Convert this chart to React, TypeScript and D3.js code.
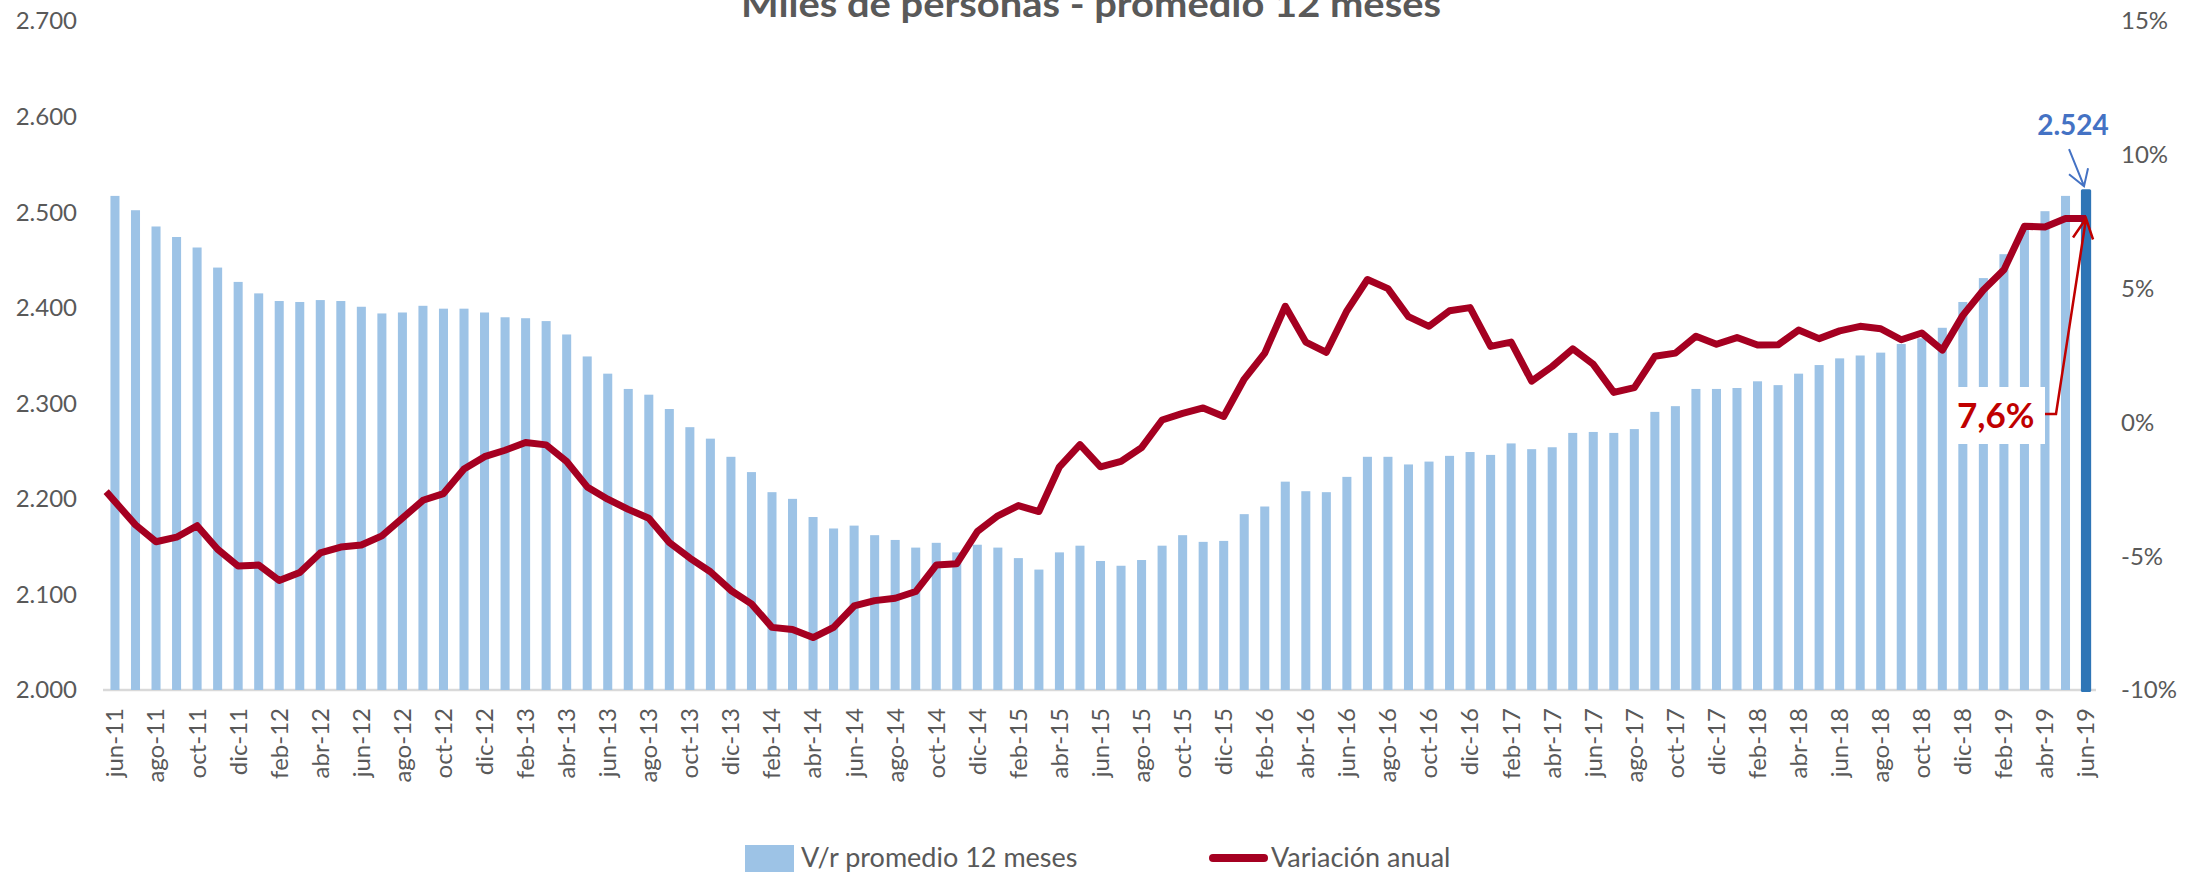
import { useRef, useEffect } from 'react';
import * as d3 from 'd3';

const categories = [
  'jun-11', 'jul-11', 'ago-11', 'sep-11', 'oct-11', 'nov-11', 'dic-11',
  'ene-12', 'feb-12', 'mar-12', 'abr-12', 'may-12', 'jun-12', 'jul-12', 'ago-12', 'sep-12', 'oct-12', 'nov-12', 'dic-12',
  'ene-13', 'feb-13', 'mar-13', 'abr-13', 'may-13', 'jun-13', 'jul-13', 'ago-13', 'sep-13', 'oct-13', 'nov-13', 'dic-13',
  'ene-14', 'feb-14', 'mar-14', 'abr-14', 'may-14', 'jun-14', 'jul-14', 'ago-14', 'sep-14', 'oct-14', 'nov-14', 'dic-14',
  'ene-15', 'feb-15', 'mar-15', 'abr-15', 'may-15', 'jun-15', 'jul-15', 'ago-15', 'sep-15', 'oct-15', 'nov-15', 'dic-15',
  'ene-16', 'feb-16', 'mar-16', 'abr-16', 'may-16', 'jun-16', 'jul-16', 'ago-16', 'sep-16', 'oct-16', 'nov-16', 'dic-16',
  'ene-17', 'feb-17', 'mar-17', 'abr-17', 'may-17', 'jun-17', 'jul-17', 'ago-17', 'sep-17', 'oct-17', 'nov-17', 'dic-17',
  'ene-18', 'feb-18', 'mar-18', 'abr-18', 'may-18', 'jun-18', 'jul-18', 'ago-18', 'sep-18', 'oct-18', 'nov-18', 'dic-18',
  'ene-19', 'feb-19', 'mar-19', 'abr-19', 'may-19', 'jun-19',
];

// V/r promedio 12 meses (miles de personas)
const promedio = [
  2517, 2502, 2485, 2474, 2463, 2442, 2427, 2415, 2407, 2406,
  2408, 2407, 2401, 2394, 2395, 2402, 2399, 2399, 2395, 2390,
  2389, 2386, 2372, 2349, 2331, 2315, 2309, 2294, 2275, 2263,
  2244, 2228, 2207, 2200, 2181, 2169, 2172, 2162, 2157, 2149,
  2154, 2144, 2152, 2149, 2138, 2126, 2144, 2151, 2135, 2130,
  2136, 2151, 2162, 2155, 2156, 2184, 2192, 2218, 2208, 2207,
  2223, 2244, 2244, 2236, 2239, 2245, 2249, 2246, 2258, 2252,
  2254, 2269, 2270, 2269, 2273, 2291, 2297, 2315, 2315, 2316,
  2323, 2319, 2331, 2340, 2347, 2350, 2353, 2362, 2368, 2379,
  2406, 2431, 2456, 2483, 2501, 2517, 2524,
];

// Variación anual (%)
const variacion = [
  -2.96, -3.83, -4.46, -4.29, -3.86, -4.74, -5.37, -5.33, -5.91, -5.61,
  -4.88, -4.66, -4.58, -4.24, -3.58, -2.91, -2.66, -1.74, -1.28, -1.04,
  -0.75, -0.84, -1.46, -2.41, -2.87, -3.25, -3.58, -4.49, -5.07, -5.58,
  -6.28, -6.78, -7.66, -7.74, -8.04, -7.66, -6.86, -6.66, -6.57, -6.32,
  -5.33, -5.28, -4.08, -3.49, -3.11, -3.33, -1.66, -0.83, -1.66, -1.46,
  -0.94, 0.09, 0.34, 0.54, 0.22, 1.62, 2.59, 4.34, 3.0, 2.62,
  4.17, 5.34, 5.0, 3.95, 3.59, 4.17, 4.29, 2.84, 3.0, 1.54,
  2.09, 2.75, 2.17, 1.12, 1.3, 2.47, 2.59, 3.22, 2.92, 3.17,
  2.89, 2.9, 3.45, 3.13, 3.42, 3.59, 3.5, 3.09, 3.34, 2.7,
  4.0, 4.95, 5.7, 7.33, 7.3, 7.62, 7.62,
];

const leftTicks = [2000, 2100, 2200, 2300, 2400, 2500, 2600, 2700];
const rightTicks = [-10, -5, 0, 5, 10, 15];

const W = 2193;
const H = 872;
const FONT = "Lato, 'DejaVu Sans', sans-serif";
const GRAY = '#595959';

const App = () => {
  const svgRef = useRef<SVGSVGElement>(null);

  useEffect(() => {
    if (!svgRef.current) return;
    const svg = d3.select(svgRef.current);
    svg.selectAll('*').remove();

    const baseY = 690;
    const topY = 21;
    const plotLeft = 104.7;

    const x = d3.scaleBand<string>()
      .domain(categories)
      .range([plotLeft, 2096.3])
      .paddingInner(0.56)
      .paddingOuter(0.28);
    const cx = (c: string) => (x(c) as number) + x.bandwidth() / 2;

    const yL = d3.scaleLinear().domain([2000, 2700]).range([baseY, topY]);
    const yR = d3.scaleLinear().domain([-10, 15]).range([baseY, topY]);

    const es = d3.formatLocale({ decimal: ',', thousands: '.', grouping: [3], currency: ['', ''] });
    const fmtL = es.format(',d');

    svg.append('rect').attr('width', W).attr('height', H).attr('fill', '#fff');

    // title (cut at the top like the original)
    svg.append('text')
      .attr('x', 1091)
      .attr('y', 17)
      .attr('text-anchor', 'middle')
      .attr('font-family', FONT)
      .attr('font-weight', 'bold')
      .attr('font-size', 36)
      .attr('fill', GRAY)
      .attr('textLength', 700)
      .attr('lengthAdjust', 'spacingAndGlyphs')
      .text('Miles de personas - promedio 12 meses');

    // left axis labels
    svg.append('g')
      .selectAll('text')
      .data(leftTicks)
      .enter()
      .append('text')
      .attr('x', 77)
      .attr('y', d => yL(d))
      .attr('dy', '0.35em')
      .attr('text-anchor', 'end')
      .attr('font-family', FONT)
      .attr('font-size', 24)
      .attr('fill', GRAY)
      .text(d => fmtL(d));

    // right axis labels
    svg.append('g')
      .selectAll('text')
      .data(rightTicks)
      .enter()
      .append('text')
      .attr('x', 2121)
      .attr('y', d => yR(d))
      .attr('dy', '0.35em')
      .attr('font-family', FONT)
      .attr('font-size', 24)
      .attr('fill', GRAY)
      .text(d => `${d}%`);

    // baseline
    svg.append('line')
      .attr('x1', 103)
      .attr('x2', 2096)
      .attr('y1', baseY)
      .attr('y2', baseY)
      .attr('stroke', '#D9D9D9')
      .attr('stroke-width', 2.5);

    // bars
    const last = categories.length - 1;
    svg.append('g')
      .selectAll('rect')
      .data(promedio)
      .enter()
      .append('rect')
      .attr('x', (d, i) => (x(categories[i]) as number) - (i === last ? 0.6 : 0))
      .attr('y', d => yL(d))
      .attr('width', (d, i) => x.bandwidth() + (i === last ? 1.2 : 0))
      .attr('height', (d, i) => baseY - yL(d) + (i === last ? 2 : 0))
      .attr('rx', (d, i) => (i === last ? 1.5 : 0))
      .attr('fill', (d, i) => (i === last ? '#2E75B6' : '#9DC3E6'));

    // x labels (every 2 months)
    svg.append('g')
      .selectAll('text')
      .data(categories.filter((c, i) => i % 2 === 0))
      .enter()
      .append('text')
      .attr('transform', d => `translate(${cx(d)},708) rotate(-90)`)
      .attr('dy', '0.35em')
      .attr('text-anchor', 'end')
      .attr('font-family', FONT)
      .attr('font-size', 24)
      .attr('fill', GRAY)
      .text(d => d);

    // line, with the first segment carried back to the plot edge as in Excel
    const pts: [number, number][] = variacion.map((v, i) => [cx(categories[i]), yR(v)]);
    const slope = (pts[1][1] - pts[0][1]) / (pts[1][0] - pts[0][0]);
    const edgeX = plotLeft + 1.5;
    pts.unshift([edgeX, pts[0][1] - slope * (pts[0][0] - edgeX)]);

    svg.append('path')
      .datum(pts)
      .attr('fill', 'none')
      .attr('stroke', '#A50021')
      .attr('stroke-width', 7)
      .attr('stroke-linejoin', 'round')
      .attr('d', d3.line());

    // annotation: last bar value
    const bx = cx(categories[last]);
    const by = yL(promedio[last]);
    svg.append('text')
      .attr('x', bx - 13)
      .attr('y', by - 54)
      .attr('text-anchor', 'middle')
      .attr('font-family', FONT)
      .attr('font-weight', 'bold')
      .attr('font-size', 28)
      .attr('fill', '#4472C4')
      .text(fmtL(promedio[last]));

    const blueTip = [bx - 2, by - 3];
    svg.append('path')
      .attr('d', `M${bx - 17},${by - 40}L${blueTip[0]},${blueTip[1]}M${blueTip[0] - 15},${blueTip[1] - 12}L${blueTip[0]},${blueTip[1]}L${blueTip[0] + 4},${blueTip[1] - 18}`)
      .attr('fill', 'none')
      .attr('stroke', '#4472C4')
      .attr('stroke-width', 2);

    // annotation: last variation
    const lx = bx;
    const ly = yR(variacion[last]);
    svg.append('rect')
      .attr('x', 1947)
      .attr('y', 387)
      .attr('width', 98)
      .attr('height', 57)
      .attr('fill', '#fff');

    svg.append('text')
      .attr('x', 1957)
      .attr('y', 428)
      .attr('font-family', FONT)
      .attr('font-weight', 'bold')
      .attr('font-size', 35)
      .attr('fill', '#C00000')
      .text(`${d3.format('.1f')(variacion[last]).replace('.', ',')}%`);

    svg.append('path')
      .attr('d', `M2045,414L2056,414L${lx},${ly}M${lx - 13},${ly + 19}L${lx},${ly}L${lx + 7},${ly + 21}`)
      .attr('fill', 'none')
      .attr('stroke', '#C00000')
      .attr('stroke-width', 2.5);

    // legend
    const legend = svg.append('g').attr('font-family', FONT).attr('font-size', 27).attr('fill', GRAY);
    legend.append('rect')
      .attr('x', 745)
      .attr('y', 845)
      .attr('width', 49)
      .attr('height', 30)
      .attr('fill', '#9DC3E6');
    legend.append('text').attr('x', 801).attr('y', 867).text('V/r promedio 12 meses');
    legend.append('line')
      .attr('x1', 1213)
      .attr('x2', 1264)
      .attr('y1', 858)
      .attr('y2', 858)
      .attr('stroke', '#A50021')
      .attr('stroke-width', 8)
      .attr('stroke-linecap', 'round');
    legend.append('text').attr('x', 1271).attr('y', 867).text('Variación anual');
  }, []);

  return (
    <svg
      ref={svgRef}
      width={W}
      height={H}
      style={{ position: 'absolute', left: 0, top: 0, display: 'block' }}
    />
  );
};

export default App;
